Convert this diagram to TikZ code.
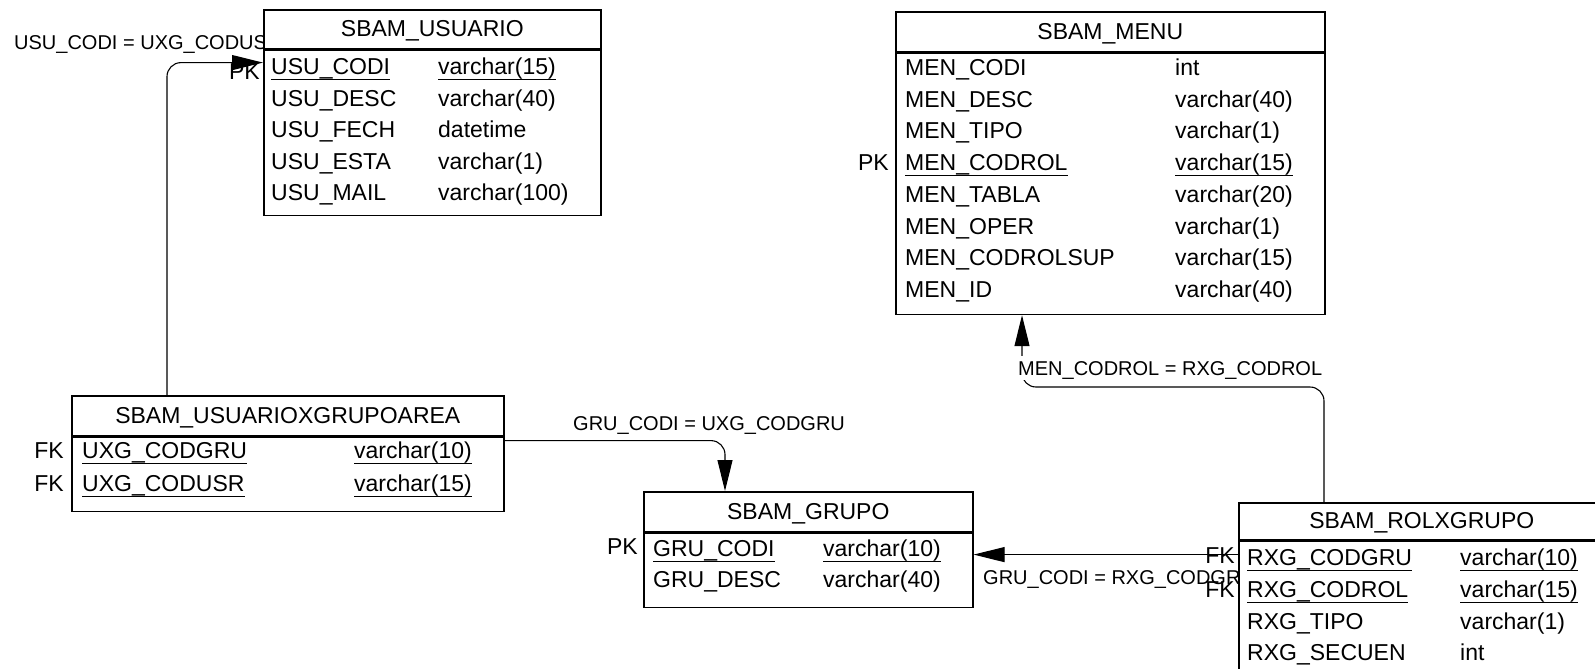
\documentclass[tikz,border=0pt]{standalone}
\usepackage{fontspec}
\setmainfont{Liberation Sans}
\usetikzlibrary{arrows.meta,positioning}

\begin{document}
\begin{tikzpicture}[x=1pt, y=-1pt,
  tbltitle/.style={draw=black, line width=1.6pt, fill=white, anchor=north west, inner sep=0pt, minimum height=39pt, text height=20pt, text depth=5pt, font=\fontsize{23}{27}\selectfont},
  tblbody/.style={draw=black, line width=1.6pt, fill=white, anchor=north west, inner sep=0pt},
  fld/.style={anchor=west, inner sep=0pt, text height=20pt, text depth=5pt, font=\fontsize{23}{27}\selectfont},
  keyfld/.style={fld, append after command={(\tikzlastnode.south west) edge[line width=1pt] (\tikzlastnode.south east)}},
  keytag/.style={anchor=east, inner sep=0pt, text height=20pt, text depth=5pt, font=\fontsize{23}{27}\selectfont},
  rellbl/.style={anchor=west, inner sep=1pt, text height=18pt, text depth=4pt, font=\fontsize{20}{24}\selectfont},
  relarr/.style={-{Triangle[length=31pt,width=15pt]}, line width=1.1pt, rounded corners=14pt}
]
\useasboundingbox (0,0) rectangle (1595,669);
\fill[white] (0,0) rectangle (1595,669);
\clip (0,0) rectangle (1595,669);

\node[rellbl] (lblusu) at (13,43) {USU\_CODI = UXG\_CODUS};

% SBAM_USUARIO
\node[tbltitle, minimum width=337pt] (usut) at (263,9) {SBAM\_USUARIO};
\node[tblbody, minimum width=337pt, minimum height=165pt] (usub) at (usut.south west) {};
\node[keyfld] (usu1n) at (271,67) {USU\_CODI};
\node[keyfld] (usu1t) at (438,67) {varchar(15)};
\node[fld] (usu2n) at (271,98.5) {USU\_DESC};
\node[fld] (usu2t) at (438,98.5) {varchar(40)};
\node[fld] (usu3n) at (271,130) {USU\_FECH};
\node[fld] (usu3t) at (438,130) {datetime};
\node[fld] (usu4n) at (271,161.5) {USU\_ESTA};
\node[fld] (usu4t) at (438,161.5) {varchar(1)};
\node[fld] (usu5n) at (271,193) {USU\_MAIL};
\node[fld] (usu5t) at (438,193) {varchar(100)};
\node[keytag] (usupk) at (260,72) {PK};

% SBAM_MENU
\node[tbltitle, minimum width=429pt, minimum height=40pt] (ment) at (895,11) {SBAM\_MENU};
\node[tblbody, minimum width=429pt, minimum height=261pt] (menb) at (ment.south west) {};
\node[fld] (men1n) at (905,68) {MEN\_CODI};
\node[fld] (men1t) at (1175,68) {int};
\node[fld] (men2n) at (905,99.7) {MEN\_DESC};
\node[fld] (men2t) at (1175,99.7) {varchar(40)};
\node[fld] (men3n) at (905,131.4) {MEN\_TIPO};
\node[fld] (men3t) at (1175,131.4) {varchar(1)};
\node[keyfld] (men4n) at (905,163.1) {MEN\_CODROL};
\node[keyfld] (men4t) at (1175,163.1) {varchar(15)};
\node[fld] (men5n) at (905,194.8) {MEN\_TABLA};
\node[fld] (men5t) at (1175,194.8) {varchar(20)};
\node[fld] (men6n) at (905,226.5) {MEN\_OPER};
\node[fld] (men6t) at (1175,226.5) {varchar(1)};
\node[fld] (men7n) at (905,258.2) {MEN\_CODROLSUP};
\node[fld] (men7t) at (1175,258.2) {varchar(15)};
\node[fld] (men8n) at (905,289.9) {MEN\_ID};
\node[fld] (men8t) at (1175,289.9) {varchar(40)};
\node[keytag] (menpk) at (889,163) {PK};

% SBAM_USUARIOXGRUPOAREA
\node[tbltitle, minimum width=432pt, minimum height=40pt] (uxgt) at (71,395) {SBAM\_USUARIOXGRUPOAREA};
\node[tblbody, minimum width=432pt, minimum height=74pt] (uxgb) at (uxgt.south west) {};
\node[keyfld] (uxg1n) at (82,451) {UXG\_CODGRU};
\node[keyfld] (uxg1t) at (354,451) {varchar(10)};
\node[keyfld] (uxg2n) at (82,484) {UXG\_CODUSR};
\node[keyfld] (uxg2t) at (354,484) {varchar(15)};
\node[keytag] (uxgfk1) at (64,451) {FK};
\node[keytag] (uxgfk2) at (64,484) {FK};

% SBAM_GRUPO
\node[tbltitle, minimum width=329pt, minimum height=40pt] (grut) at (643,491) {SBAM\_GRUPO};
\node[tblbody, minimum width=329pt, minimum height=74pt] (grub) at (grut.south west) {};
\node[keyfld] (gru1n) at (653,549) {GRU\_CODI};
\node[keyfld] (gru1t) at (823,549) {varchar(10)};
\node[fld] (gru2n) at (653,580) {GRU\_DESC};
\node[fld] (gru2t) at (823,580) {varchar(40)};
\node[keytag] (grupk) at (638,547) {PK};

% SBAM_ROLXGRUPO
\node[tbltitle, minimum width=366pt, minimum height=37pt] (rxgt) at (1238,502) {SBAM\_ROLXGRUPO};
\node[tblbody, minimum width=366pt, minimum height=140pt] (rxgb) at (rxgt.south west) {};
\node[keyfld] (rxg1n) at (1247,558) {RXG\_CODGRU};
\node[keyfld] (rxg1t) at (1460,558) {varchar(10)};
\node[keyfld] (rxg2n) at (1247,590) {RXG\_CODROL};
\node[keyfld] (rxg2t) at (1460,590) {varchar(15)};
\node[fld] (rxg3n) at (1247,622) {RXG\_TIPO};
\node[fld] (rxg3t) at (1460,622) {varchar(1)};
\node[fld] (rxg4n) at (1247,653) {RXG\_SECUEN};
\node[fld] (rxg4t) at (1460,653) {int};
\node[keytag] (rxgfk1) at (1235,556) {FK};
\node[keytag] (rxgfk2) at (1235,590) {FK};

% relations
\coordinate (rolbend) at (1022,387);
\draw[relarr] ([xshift=96pt]uxgt.north west) |- ([yshift=-13pt]usut.south west);
\draw[relarr] ([yshift=-4pt]uxgt.south east) -| ([xshift=82pt]grut.north west);
\draw[relarr] ([yshift=-14pt]rxgt.south west) -- ([yshift=-14pt]rxgt.south west -| grub.east);
\draw[relarr] ([xshift=86pt]rxgt.north west) |- (rolbend) -- ([xshift=127pt]menb.south west);

\node[rellbl] (lblgru) at (572,423) {GRU\_CODI = UXG\_CODGRU};
\node[rellbl, fill=white] (lblmen) at (1017,368) {MEN\_CODROL = RXG\_CODROL};
\node[rellbl] (lblrxg) at (982,577) {GRU\_CODI = RXG\_CODGR};
\end{tikzpicture}
\end{document}
